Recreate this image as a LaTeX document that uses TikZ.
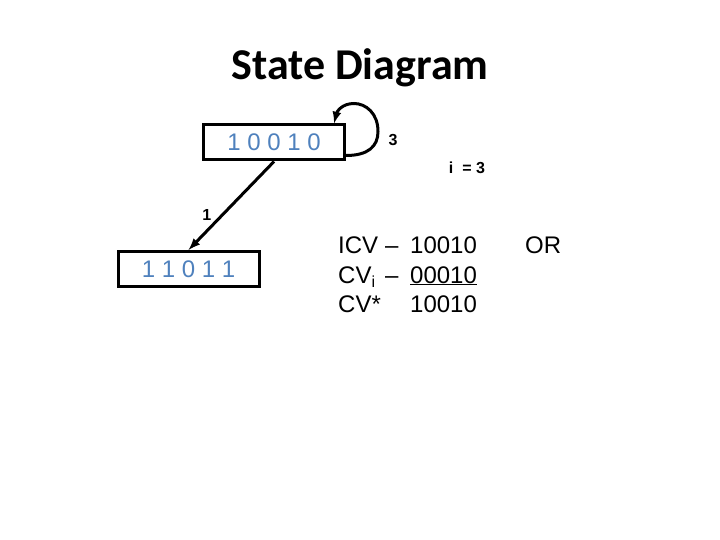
\documentclass[tikz,border=0pt]{standalone}
\usepackage{fontspec}
\setmainfont{Liberation Sans}
\newfontfamily\titlefont{Carlito}
\usetikzlibrary{positioning}
\definecolor{bitblue}{RGB}{79,129,189}
\tikzset{
  statebox/.style={draw=black, line width=3pt, minimum width=141pt, minimum height=35pt, inner sep=0pt,
    font=\fontsize{24}{24}\selectfont, text=bitblue},
  small/.style={font=\bfseries\fontsize{16}{16}\selectfont, inner sep=0pt},
  cv/.style={font=\fontsize{24}{24}\selectfont, anchor=base west, inner sep=0pt}
}
\begin{document}
\begin{tikzpicture}[x=1pt,y=-1pt]
\useasboundingbox (0,0) rectangle (720,540);

\node[anchor=base] (title) at (360,80) {\titlefont\bfseries\fontsize{44}{44}\selectfont State Diagram};

\node[statebox] (s1) at (274,142.5) {1 0 0 1 0};
\node[statebox] (s2) at (188.5,269) {1 1 0 1 1};

\draw[->,>=latex,line width=3pt] (s1.south) -- (s2.north) node[small, pos=0.6, left=10pt] {1};
% self loop on the upper state
\draw[->,>=latex,line width=3pt] ([yshift=-13pt]s1.east) .. controls +(22,0) and +(0,15) .. ++(32,-24)
  .. controls +(0,-18) and +(12,0) .. ++(-24,-28)
  .. controls +(-12,0) and +(3,-12) .. ([xshift=-12pt]s1.north east);

\node[small] (three) at (393,140) {3};
\node[small] (ival) at (467,168) {i \ = 3};

\node[cv] (icv) at (338,254) {ICV};
\node[cv] (dash1) at (385,254) {--};
\node[cv] (icvbits) at (410,254) {10010};
\node[cv] (or) at (525,254) {OR};
\node[cv] (cvi) at (338,283) {CV\raisebox{-4pt}{\fontsize{16}{16}\selectfont i}};
\node[cv] (dash2) at (385,283) {--};
\node[cv] (cvibits) at (410,283) {\underline{00010}};
\node[cv] (cvs) at (338,312) {CV*};
\node[cv] (cvsbits) at (410,312) {10010};
\end{tikzpicture}
\end{document}
